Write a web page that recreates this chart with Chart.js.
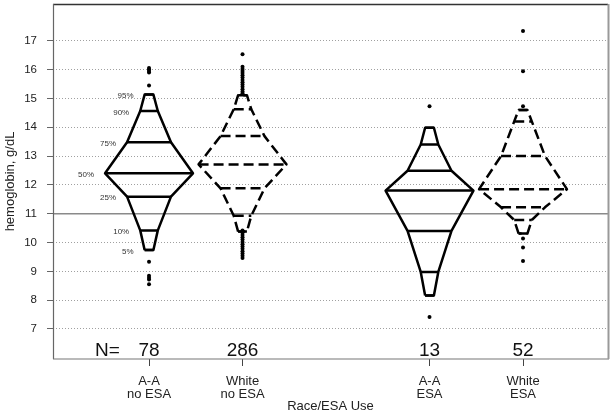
<!DOCTYPE html>
<html>
<head>
<meta charset="utf-8">
<script src="https://cdn.jsdelivr.net/npm/chart.js@4"></script>
<style>
  html, body { margin: 0; padding: 0; background: #fff; }
  #wrap { width: 615px; height: 416px; }
</style>
</head>
<body>
<div id="wrap"><canvas id="c" width="615" height="416"></canvas></div>
<script>
// Hemoglobin percentile plots by race / ESA use

// ── Data ────────────────────────────────────────────────────────────────

const groupLabels = [['A-A', 'no ESA'], ['White', 'no ESA'], ['A-A', 'ESA'], ['White', 'ESA']]
const groupX = [1, 2, 4, 5]
const groupN = [78, 286, 13, 52]

const pctLevels = [5, 10, 25, 50, 75, 90, 95]
const pctAaNoEsa    = [9.74, 10.42, 11.59, 12.40, 13.48, 14.56, 15.13]
const pctWhiteNoEsa = [10.38, 10.93, 11.88, 12.71, 13.69, 14.62, 15.11]
const pctAaEsa      = [8.16, 8.98, 10.40, 11.80, 12.49, 13.40, 13.98]
const pctWhiteEsa   = [10.31, 10.78, 11.22, 11.85, 13.00, 14.20, 14.60]

const outAaNoEsa    = [16.05, 16.0, 15.95, 15.9, 15.45, 9.33, 8.85, 8.78, 8.72, 8.55]
const outWhiteNoEsa = [16.53, 16.1, 16.02, 15.95, 15.88, 15.8, 15.72, 15.64, 15.56, 15.48, 15.4, 15.32, 15.24, 15.18,
                       10.42, 10.34, 10.26, 10.18, 10.1, 10.02, 9.94, 9.86, 9.78, 9.7, 9.62, 9.54, 9.46]
const outAaEsa      = [14.73, 7.42]
const outWhiteEsa   = [17.34, 15.94, 14.73, 10.14, 9.83, 9.36]

const yTicks = [7, 8, 9, 10, 11, 12, 13, 14, 15, 16, 17]
const refLine = 11

const pctSets = [pctAaNoEsa, pctWhiteNoEsa, pctAaEsa, pctWhiteEsa]
const outSets = [outAaNoEsa, outWhiteNoEsa, outAaEsa, outWhiteEsa]

// ── Layout / style ──────────────────────────────────────────────────────

const FONT = '"Liberation Sans", Arial, sans-serif'
const X_MIN = -0.027
const X_MAX = 5.909
const Y_MIN = 5.959
const Y_MAX = 18.273
const WIDTH_K = 0.94 // half width (x units) per unit of min(p, 1-p)
const N_Y = 6.05

function halfWidth (p) { return WIDTH_K * Math.min(p, 100 - p) / 100 }

// ── Datasets ────────────────────────────────────────────────────────────

const datasets = []

datasets.push({
  data: [{ x: X_MIN, y: refLine }, { x: X_MAX, y: refLine }],
  showLine: true, borderColor: '#8a8a8a', borderWidth: 1.5, pointRadius: 0, order: 5
})

groupX.forEach((cx, i) => {
  const q = pctSets[i]
  const dashed = groupLabels[i][0] === 'White'
  const dash = dashed ? [10, 5] : []
  const left = pctLevels.map((p, k) => ({ x: cx - halfWidth(p), y: q[k] }))
  const right = pctLevels.map((p, k) => ({ x: cx + halfWidth(p), y: q[k] })).reverse()
  datasets.push({
    data: [...left, ...right, left[0]],
    showLine: true, borderColor: '#000', borderWidth: 2.5, borderDash: dash,
    borderJoinStyle: 'round', pointRadius: 0, tension: 0, order: 2
  })
  const levels = []
  pctLevels.forEach((p, k) => {
    levels.push({ x: cx - halfWidth(p), y: q[k] }, { x: cx + halfWidth(p), y: q[k] }, { x: cx, y: null })
  })
  datasets.push({
    data: levels,
    showLine: true, spanGaps: false, borderColor: '#000', borderWidth: 2.5, borderDash: dash,
    pointRadius: 0, tension: 0, order: 2
  })
  datasets.push({
    data: outSets[i].map(v => ({ x: cx, y: v })),
    showLine: false, pointRadius: 2, pointBackgroundColor: '#000', pointBorderWidth: 0, order: 1
  })
})

// ── Plugins: frame, N= row, percentile labels ───────────────────────────

const extras = {
  id: 'extras',
  afterDraw (chart) {
    const { ctx, chartArea: a, scales: { x, y } } = chart
    ctx.save()
    const seg = (x1, y1, x2, y2, c, w) => {
      ctx.strokeStyle = c; ctx.lineWidth = w
      ctx.beginPath(); ctx.moveTo(x1, y1); ctx.lineTo(x2, y2); ctx.stroke()
    }
    seg(a.left, a.top + 0.5, a.right, a.top + 0.5, '#333', 1.5)
    seg(a.left + 0.5, a.top, a.left + 0.5, a.bottom, '#666', 1.2)
    seg(a.left, a.bottom, a.right + 1, a.bottom, '#777', 1.2)
    seg(a.right + 0.5, a.top, a.right + 0.5, a.bottom, '#999', 2)

    // N= row
    ctx.fillStyle = '#111'
    ctx.font = '19px ' + FONT
    ctx.textBaseline = 'alphabetic'
    ctx.textAlign = 'center'
    const ny = y.getPixelForValue(N_Y)
    ctx.fillText('N=', x.getPixelForValue(0.556), ny)
    groupX.forEach((cx, i) => ctx.fillText(String(groupN[i]), x.getPixelForValue(cx), ny))

    // percentile labels on the first group
    ctx.font = '8px ' + FONT
    ctx.fillStyle = '#333'
    ctx.textAlign = 'right'
    ctx.textBaseline = 'middle'
    pctLevels.forEach((p, k) => {
      const px = x.getPixelForValue(groupX[0] - halfWidth(p)) - 11
      const py = y.getPixelForValue(pctAaNoEsa[k]) + 1.5
      ctx.fillText(p + '%', px, py)
    })
    ctx.restore()
  }
}

// ── Chart ───────────────────────────────────────────────────────────────

new Chart(document.getElementById('c'), {
  type: 'scatter',
  data: { datasets },
  plugins: [extras],
  options: {
    responsive: false,
    devicePixelRatio: 1,
    animation: false,
    layout: { padding: { top: 4, right: 7, left: 0, bottom: 0 } },
    plugins: { legend: { display: false }, tooltip: { enabled: false } },
    scales: {
      x: {
        type: 'linear',
        min: X_MIN,
        max: X_MAX,
        afterBuildTicks: s => { s.ticks = groupX.map(v => ({ value: v })) },
        afterFit: s => { s.height = 57; s.paddingLeft = 0; s.paddingRight = 0 },
        grid: { drawOnChartArea: false, drawTicks: true, tickLength: 7, tickColor: '#444' },
        border: { display: false },
        ticks: {
          autoSkip: false,
          maxRotation: 0,
          padding: 9,
          color: '#222',
          font: { family: FONT, size: 13, lineHeight: 1 },
          callback: v => groupLabels[groupX.indexOf(v)] || ''
        },
        title: {
          display: true,
          text: 'Race/ESA Use',
          color: '#222',
          font: { family: FONT, size: 13 },
          padding: { top: 0, bottom: 1.5 }
        }
      },
      y: {
        type: 'linear',
        min: Y_MIN,
        max: Y_MAX,
        afterBuildTicks: s => { s.ticks = yTicks.map(v => ({ value: v })) },
        afterFit: s => { s.width = 53; s.paddingTop = 0; s.paddingBottom = 0 },
        grid: { color: '#a0a0a0', lineWidth: 1, tickLength: 6, tickColor: '#666' },
        border: { display: false, dash: [1, 2] },
        ticks: {
          padding: 10,
          color: '#222',
          font: { family: FONT, size: 11.5 }
        },
        title: {
          display: true,
          text: 'hemoglobin, g/dL',
          color: '#222',
          font: { family: FONT, size: 13 },
          padding: { top: 2.2, bottom: 0 }
        }
      }
    }
  }
})
</script>
</body>
</html>
